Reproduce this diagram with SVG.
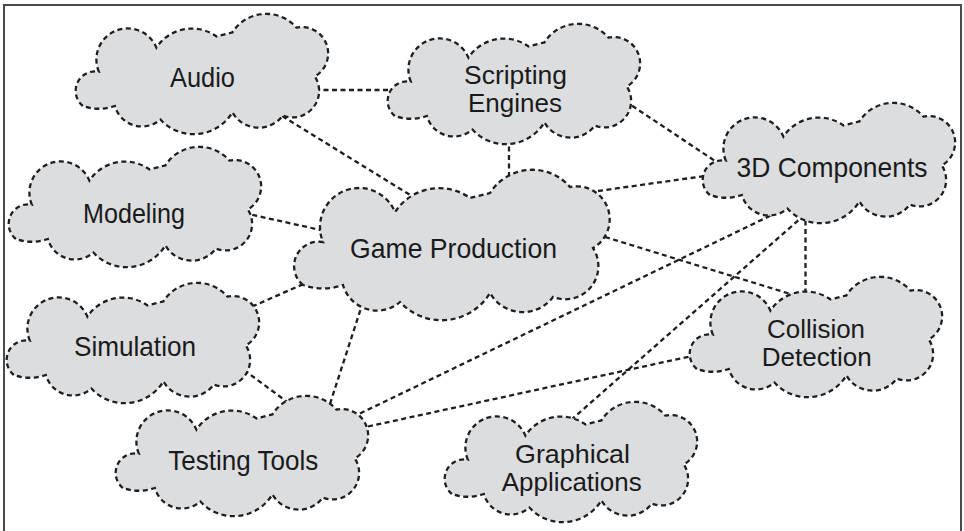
<svg xmlns="http://www.w3.org/2000/svg" xmlns:xlink="http://www.w3.org/1999/xlink" width="964" height="531" viewBox="0 0 964 531">
<style>
.frame{fill:none;stroke:#4a4a4a;stroke-width:2}
.link{fill:none;stroke:#1e1e1e;stroke-width:2.3;stroke-dasharray:5 3.5}
.cloud{fill:#dcdddf;stroke:#1e1e1e;stroke-width:2.3;stroke-dasharray:5 3.5}
.small{stroke-width:2.85;stroke-dasharray:6.25 4.4}
.label{font-family:"Liberation Sans",Arial,Helvetica,sans-serif;font-size:28px;fill:#1a1a1a;text-anchor:middle}
.two{font-size:25px}
</style>
<defs>
<path id="cloudShape" d="M11,115 A24.5,24.5 0 0 1 31,72 A39,39 0 0 1 103,42 A53,53 0 0 1 178,28 L198,23 A50,50 0 0 1 278,17 A33,33 0 0 1 301,78 A33.2,33.2 0 0 1 261,127 A37.7,37.7 0 0 1 198,123 A56.6,56.6 0 0 1 108,132 A35.3,35.3 0 0 1 51,115 A60,60 0 0 1 11,115 Z"/>
</defs>
<rect class="frame" x="4" y="5" width="957" height="560"/>
<g id="connectors">
<line class="link" x1="315" y1="90" x2="392" y2="90"/>
<line class="link" x1="275" y1="111.6" x2="415" y2="198"/>
<line class="link" x1="509" y1="138" x2="509" y2="182"/>
<line class="link" x1="625" y1="101" x2="718" y2="163"/>
<line class="link" x1="598" y1="191" x2="712" y2="175"/>
<line class="link" x1="244" y1="213" x2="325" y2="231"/>
<line class="link" x1="252" y1="306.6" x2="308" y2="282"/>
<line class="link" x1="244" y1="370" x2="290" y2="404"/>
<line class="link" x1="363" y1="302" x2="328" y2="410"/>
<line class="link" x1="360" y1="413.5" x2="805" y2="199"/>
<line class="link" x1="368" y1="426.5" x2="692" y2="356"/>
<line class="link" x1="571" y1="420" x2="805" y2="214.5"/>
<line class="link" x1="605" y1="237" x2="800" y2="297"/>
<line class="link" x1="805.5" y1="212" x2="805.5" y2="298"/>
</g>
<g id="audio">
<use xlink:href="#cloudShape" class="cloud small" transform="translate(74,14) scale(0.8)"/>
<text class="label" x="202.5" y="87" textLength="65" lengthAdjust="spacingAndGlyphs">Audio</text>
</g>
<g id="scripting-engines">
<use xlink:href="#cloudShape" class="cloud small" transform="translate(386,24) scale(0.8)"/>
<text class="label two" x="515.5" y="84" textLength="103" lengthAdjust="spacingAndGlyphs">Scripting</text>
<text class="label two" x="515" y="112" textLength="94" lengthAdjust="spacingAndGlyphs">Engines</text>
</g>
<g id="modeling">
<use xlink:href="#cloudShape" class="cloud small" transform="translate(7,147) scale(0.8)"/>
<text class="label" x="134" y="222.5" textLength="102" lengthAdjust="spacingAndGlyphs">Modeling</text>
</g>
<g id="simulation">
<use xlink:href="#cloudShape" class="cloud small" transform="translate(5,283) scale(0.8)"/>
<text class="label" x="135" y="356" textLength="122" lengthAdjust="spacingAndGlyphs">Simulation</text>
</g>
<g id="game-production">
<use xlink:href="#cloudShape" class="cloud" transform="translate(292,170)"/>
<text class="label" x="453.5" y="257.5" textLength="207" lengthAdjust="spacingAndGlyphs">Game Production</text>
</g>
<g id="3d-components">
<use xlink:href="#cloudShape" class="cloud small" transform="translate(701,103) scale(0.8)"/>
<text class="label" x="832" y="176.5" textLength="191" lengthAdjust="spacingAndGlyphs">3D Components</text>
</g>
<g id="collision-detection">
<use xlink:href="#cloudShape" class="cloud small" transform="translate(688,277) scale(0.8)"/>
<text class="label two" x="816" y="338.3" textLength="98" lengthAdjust="spacingAndGlyphs">Collision</text>
<text class="label two" x="816.7" y="366.3" textLength="110" lengthAdjust="spacingAndGlyphs">Detection</text>
</g>
<g id="testing-tools">
<use xlink:href="#cloudShape" class="cloud small" transform="translate(114,396) scale(0.8)"/>
<text class="label" x="243.3" y="470" textLength="150" lengthAdjust="spacingAndGlyphs">Testing Tools</text>
</g>
<g id="graphical-applications">
<use xlink:href="#cloudShape" class="cloud small" transform="translate(443,402) scale(0.8)"/>
<text class="label two" x="572.5" y="463" textLength="115" lengthAdjust="spacingAndGlyphs">Graphical</text>
<text class="label two" x="571.7" y="491" textLength="140" lengthAdjust="spacingAndGlyphs">Applications</text>
</g>
</svg>
